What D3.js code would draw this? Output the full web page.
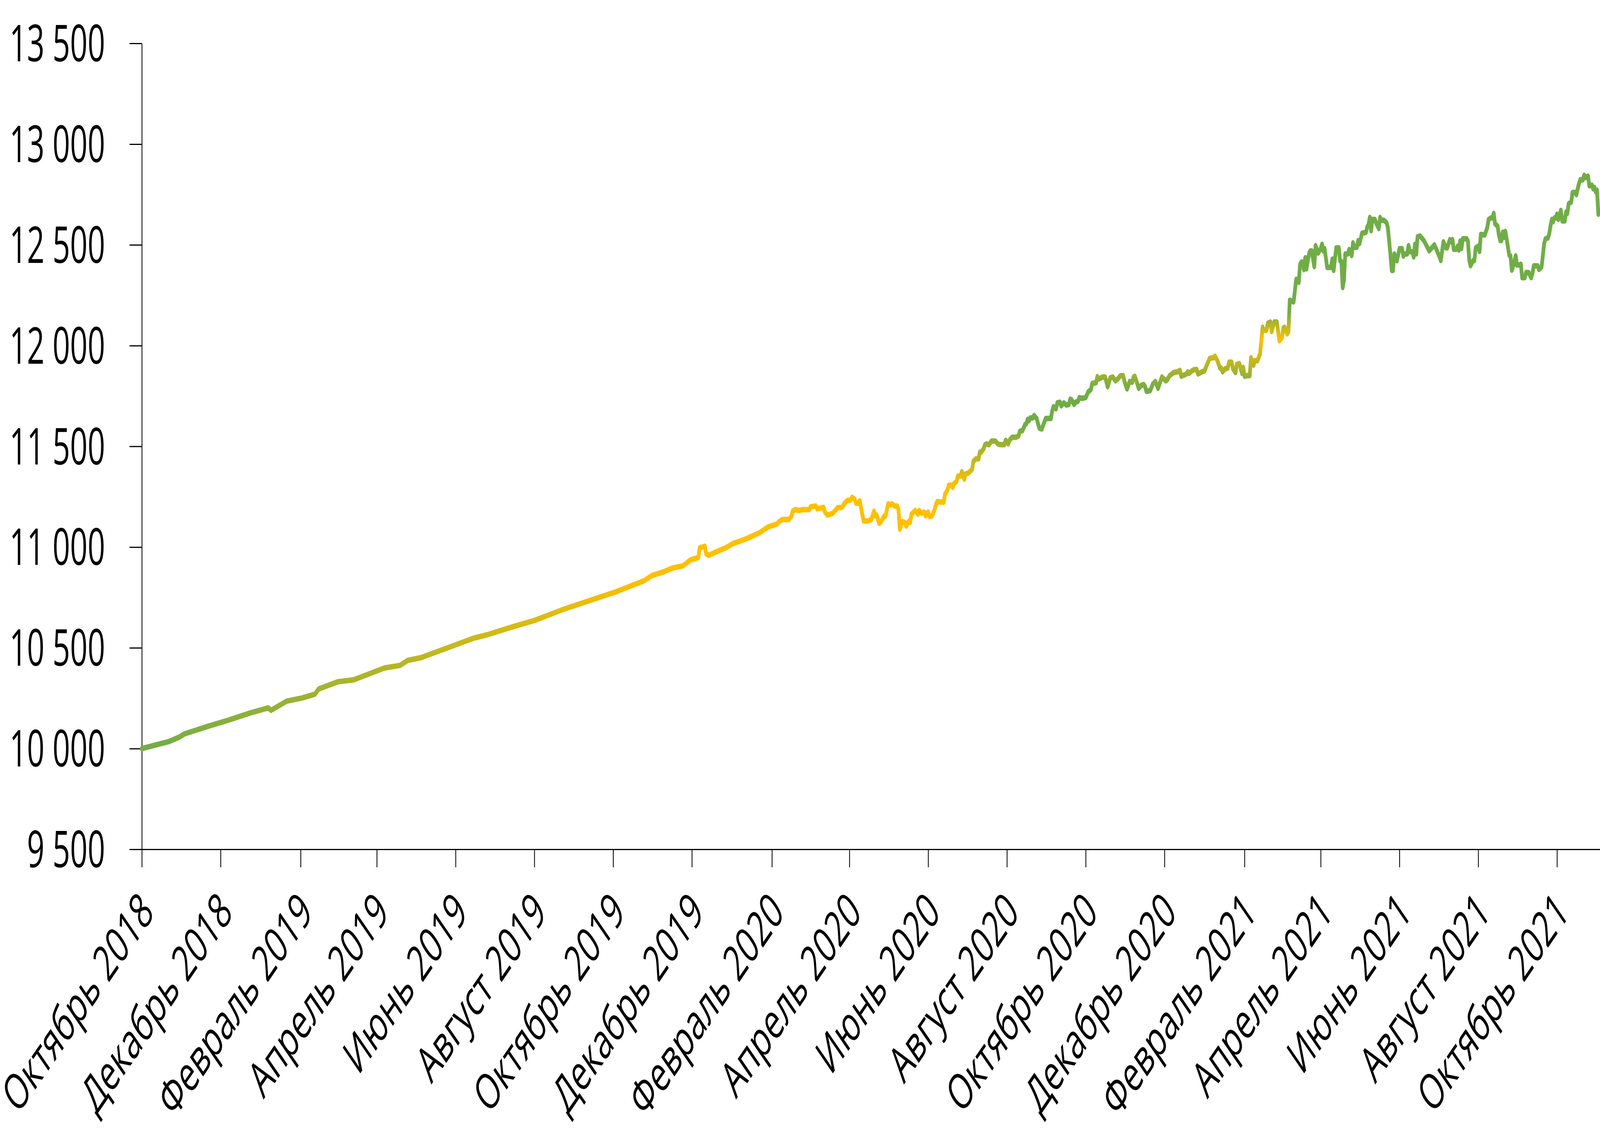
<!DOCTYPE html>
<html>
<head>
<meta charset="utf-8">
<script src="https://cdn.jsdelivr.net/npm/d3@7"></script>
<style>
  html, body { margin: 0; padding: 0; background: #fff; overflow: hidden; }
  svg { display: block; }
  .axis text { font-family: "Open Sans", sans-serif; font-size: 130px; fill: #000; }
  .axis path, .axis line { stroke: #000; stroke-width: 3; }
</style>
</head>
<body>
<script>
var w = 5967;
var h = 2936;

//Tick values and their labels
var valueTicks = [9500, 10000, 10500, 11000, 11500, 12000, 12500, 13000, 13500];
var valueLabels = ["9 500", "10 000", "10 500", "11 000", "11 500", "12 000", "12 500", "13 000", "13 500"];

var monthTicks = ["2018-10-01", "2018-12-01", "2019-02-01", "2019-04-01", "2019-06-01", "2019-08-01",
    "2019-10-01", "2019-12-01", "2020-02-01", "2020-04-01", "2020-06-01", "2020-08-01",
    "2020-10-01", "2020-12-01", "2021-02-01", "2021-04-01", "2021-06-01", "2021-08-01", "2021-10-01"];
var monthLabels = ["Октябрь 2018", "Декабрь 2018", "Февраль 2019", "Апрель 2019", "Июнь 2019", "Август 2019",
    "Октябрь 2019", "Декабрь 2019", "Февраль 2020", "Апрель 2020", "Июнь 2020", "Август 2020",
    "Октябрь 2020", "Декабрь 2020", "Февраль 2021", "Апрель 2021", "Июнь 2021", "Август 2021", "Октябрь 2021"];

//Series
var dates = [
    "2018-10-01", "2018-10-22", "2018-10-30", "2018-11-03", "2018-11-19", "2018-12-07", "2018-12-24", "2019-01-07",
    "2019-01-09", "2019-01-21", "2019-02-02", "2019-02-12", "2019-02-15", "2019-03-02", "2019-03-14", "2019-03-22",
    "2019-04-07", "2019-04-19", "2019-04-25", "2019-05-05", "2019-05-19", "2019-05-27", "2019-06-07", "2019-06-15",
    "2019-06-25", "2019-07-13", "2019-08-02", "2019-08-23", "2019-09-13", "2019-10-04", "2019-10-25", "2019-10-31",
    "2019-11-09", "2019-11-16", "2019-11-24", "2019-11-30", "2019-12-06", "2019-12-07", "2019-12-11", "2019-12-12",
    "2019-12-14", "2019-12-19", "2019-12-27", "2020-01-02", "2020-01-12", "2020-01-22", "2020-01-29", "2020-02-05",
    "2020-02-07", "2020-02-09", "2020-02-14", "2020-02-16", "2020-02-17", "2020-02-19", "2020-02-22", "2020-02-25",
    "2020-03-01", "2020-03-02", "2020-03-06", "2020-03-07", "2020-03-12", "2020-03-13", "2020-03-15", "2020-03-19",
    "2020-03-23", "2020-03-26", "2020-03-28", "2020-03-30", "2020-04-02", "2020-04-03", "2020-04-05", "2020-04-06",
    "2020-04-08", "2020-04-09", "2020-04-11", "2020-04-12", "2020-04-15", "2020-04-18", "2020-04-20", "2020-04-21",
    "2020-04-22", "2020-04-24", "2020-04-25", "2020-04-28", "2020-04-29", "2020-05-01", "2020-05-03", "2020-05-04",
    "2020-05-06", "2020-05-08", "2020-05-09", "2020-05-10", "2020-05-12", "2020-05-14", "2020-05-15", "2020-05-17",
    "2020-05-18", "2020-05-19", "2020-05-22", "2020-05-24", "2020-05-25", "2020-05-27", "2020-05-29", "2020-05-30",
    "2020-06-01", "2020-06-02", "2020-06-04", "2020-06-06", "2020-06-07", "2020-06-08", "2020-06-13", "2020-06-14",
    "2020-06-16", "2020-06-17", "2020-06-19", "2020-06-20", "2020-06-21", "2020-06-23", "2020-06-24", "2020-06-26",
    "2020-06-27", "2020-06-28", "2020-06-29", "2020-06-30", "2020-07-02", "2020-07-05", "2020-07-06", "2020-07-08",
    "2020-07-10", "2020-07-11", "2020-07-12", "2020-07-14", "2020-07-15", "2020-07-16", "2020-07-18", "2020-07-20",
    "2020-07-23", "2020-07-25", "2020-07-27", "2020-07-30", "2020-07-31", "2020-08-02", "2020-08-03", "2020-08-05",
    "2020-08-08", "2020-08-10", "2020-08-11", "2020-08-13", "2020-08-15", "2020-08-16", "2020-08-17", "2020-08-18",
    "2020-08-19", "2020-08-21", "2020-08-22", "2020-08-24", "2020-08-26", "2020-08-28", "2020-08-29", "2020-08-31",
    "2020-09-04", "2020-09-05", "2020-09-06", "2020-09-08", "2020-09-09", "2020-09-11", "2020-09-12", "2020-09-14",
    "2020-09-16", "2020-09-18", "2020-09-19", "2020-09-20", "2020-09-22", "2020-09-23", "2020-09-25", "2020-09-26",
    "2020-09-28", "2020-10-01", "2020-10-03", "2020-10-05", "2020-10-06", "2020-10-09", "2020-10-10", "2020-10-11",
    "2020-10-14", "2020-10-16", "2020-10-18", "2020-10-20", "2020-10-22", "2020-10-24", "2020-10-26", "2020-10-28",
    "2020-10-30", "2020-10-31", "2020-11-02", "2020-11-04", "2020-11-06", "2020-11-07", "2020-11-08", "2020-11-10",
    "2020-11-11", "2020-11-13", "2020-11-15", "2020-11-16", "2020-11-17", "2020-11-20", "2020-11-22", "2020-11-24",
    "2020-11-26", "2020-11-29", "2020-12-02", "2020-12-03", "2020-12-05", "2020-12-08", "2020-12-11", "2020-12-13",
    "2020-12-14", "2020-12-18", "2020-12-19", "2020-12-20", "2020-12-22", "2020-12-24", "2020-12-26", "2020-12-27",
    "2020-12-30", "2021-01-01", "2021-01-03", "2021-01-05", "2021-01-08", "2021-01-09", "2021-01-11", "2021-01-13",
    "2021-01-14", "2021-01-15", "2021-01-17", "2021-01-19", "2021-01-20", "2021-01-22", "2021-01-23", "2021-01-25",
    "2021-01-26", "2021-01-28", "2021-01-30", "2021-01-31", "2021-02-01", "2021-02-03", "2021-02-05", "2021-02-06",
    "2021-02-08", "2021-02-09", "2021-02-11", "2021-02-13", "2021-02-15", "2021-02-16", "2021-02-18", "2021-02-19",
    "2021-02-21", "2021-02-22", "2021-02-24", "2021-02-26", "2021-02-28", "2021-03-02", "2021-03-03", "2021-03-04",
    "2021-03-06", "2021-03-07", "2021-03-08", "2021-03-11", "2021-03-13", "2021-03-15", "2021-03-16", "2021-03-17",
    "2021-03-18", "2021-03-19", "2021-03-20", "2021-03-21", "2021-03-23", "2021-03-24", "2021-03-25", "2021-03-27",
    "2021-03-28", "2021-03-30", "2021-04-01", "2021-04-02", "2021-04-03", "2021-04-04", "2021-04-06", "2021-04-09",
    "2021-04-10", "2021-04-11", "2021-04-13", "2021-04-15", "2021-04-16", "2021-04-17", "2021-04-18", "2021-04-19",
    "2021-04-20", "2021-04-22", "2021-04-23", "2021-04-25", "2021-04-26", "2021-04-27", "2021-04-29", "2021-04-30",
    "2021-05-01", "2021-05-03", "2021-05-06", "2021-05-07", "2021-05-08", "2021-05-09", "2021-05-10", "2021-05-11",
    "2021-05-13", "2021-05-14", "2021-05-16", "2021-05-17", "2021-05-18", "2021-05-20", "2021-05-22", "2021-05-23",
    "2021-05-25", "2021-05-26", "2021-05-27", "2021-05-28", "2021-05-30", "2021-06-01", "2021-06-03", "2021-06-04",
    "2021-06-05", "2021-06-07", "2021-06-08", "2021-06-09", "2021-06-11", "2021-06-12", "2021-06-13", "2021-06-14",
    "2021-06-15", "2021-06-17", "2021-06-20", "2021-06-24", "2021-06-28", "2021-07-02", "2021-07-03", "2021-07-05",
    "2021-07-07", "2021-07-08", "2021-07-10", "2021-07-11", "2021-07-12", "2021-07-13", "2021-07-15", "2021-07-16",
    "2021-07-17", "2021-07-18", "2021-07-19", "2021-07-20", "2021-07-23", "2021-07-24", "2021-07-25", "2021-07-26",
    "2021-07-28", "2021-07-29", "2021-07-30", "2021-08-01", "2021-08-02", "2021-08-03", "2021-08-06", "2021-08-08",
    "2021-08-09", "2021-08-11", "2021-08-12", "2021-08-13", "2021-08-14", "2021-08-16", "2021-08-17", "2021-08-18",
    "2021-08-19", "2021-08-20", "2021-08-21", "2021-08-22", "2021-08-24", "2021-08-25", "2021-08-26", "2021-08-27",
    "2021-08-28", "2021-08-30", "2021-08-31", "2021-09-02", "2021-09-03", "2021-09-04", "2021-09-06", "2021-09-07",
    "2021-09-09", "2021-09-11", "2021-09-12", "2021-09-13", "2021-09-16", "2021-09-17", "2021-09-19", "2021-09-20",
    "2021-09-21", "2021-09-22", "2021-09-24", "2021-09-25", "2021-09-26", "2021-09-27", "2021-09-28", "2021-09-29",
    "2021-09-30", "2021-10-01", "2021-10-02", "2021-10-04", "2021-10-05", "2021-10-07", "2021-10-08", "2021-10-09",
    "2021-10-10", "2021-10-12", "2021-10-13", "2021-10-15", "2021-10-16", "2021-10-17", "2021-10-18", "2021-10-19",
    "2021-10-21", "2021-10-22", "2021-10-23", "2021-10-25", "2021-10-26", "2021-10-28", "2021-10-29", "2021-10-30",
    "2021-10-31", "2021-11-01", "2021-11-02"
];
var values = [
    10000, 10035, 10057, 10073, 10106, 10141, 10177, 10202,
    10190, 10235, 10251, 10270, 10296, 10332, 10341, 10361,
    10400, 10413, 10438, 10451, 10484, 10503, 10529, 10548,
    10564, 10600, 10638, 10690, 10735, 10780, 10833, 10859,
    10877, 10896, 10907, 10937, 10948, 10996, 11004, 10967,
    10959, 10974, 10996, 11018, 11041, 11070, 11100, 11115,
    11129, 11137, 11137, 11152, 11178, 11186, 11182, 11186,
    11186, 11200, 11204, 11190, 11197, 11174, 11159, 11167,
    11196, 11196, 11215, 11230, 11234, 11247, 11237, 11218,
    11218, 11230, 11159, 11129, 11129, 11137, 11178, 11155,
    11159, 11118, 11122, 11155, 11155, 11215, 11211, 11215,
    11204, 11204, 11186, 11089, 11126, 11122, 11104, 11129,
    11122, 11163, 11182, 11163, 11182, 11167, 11174, 11155,
    11174, 11152, 11155, 11186, 11211, 11226, 11222, 11263,
    11285, 11307, 11307, 11296, 11315, 11326, 11352, 11352,
    11374, 11359, 11337, 11363, 11367, 11385, 11426, 11438,
    11438, 11471, 11471, 11489, 11508, 11512, 11508, 11526,
    11526, 11512, 11508, 11508, 11530, 11512, 11530, 11545,
    11545, 11552, 11575, 11578, 11608, 11612, 11634, 11627,
    11641, 11641, 11653, 11638, 11590, 11586, 11605, 11638,
    11638, 11675, 11697, 11686, 11716, 11719, 11701, 11716,
    11705, 11708, 11734, 11731, 11708, 11719, 11723, 11742,
    11738, 11742, 11771, 11782, 11812, 11816, 11846, 11834,
    11844, 11844, 11796, 11840, 11844, 11825, 11836, 11851,
    11851, 11822, 11785, 11822, 11818, 11844, 11848, 11810,
    11788, 11803, 11807, 11796, 11773, 11777, 11810, 11822,
    11788, 11844, 11825, 11829, 11851, 11866, 11870, 11877,
    11848, 11859, 11870, 11862, 11874, 11881, 11881, 11859,
    11870, 11874, 11907, 11937, 11940, 11948, 11925, 11888,
    11888, 11870, 11885, 11888, 11918, 11918, 11885, 11866,
    11907, 11911, 11862, 11892, 11848, 11851, 11851, 11940,
    11903, 11925, 11925, 11959, 12091, 12076, 12076, 12110,
    12117, 12069, 12117, 12117, 12024, 12039, 12087, 12091,
    12058, 12069, 12225, 12217, 12329, 12314, 12403, 12414,
    12414, 12377, 12436, 12381, 12459, 12470, 12470, 12392,
    12496, 12459, 12481, 12503, 12470, 12481, 12388, 12388,
    12429, 12373, 12485, 12485, 12421, 12418, 12288, 12325,
    12455, 12455, 12477, 12447, 12510, 12488, 12488, 12521,
    12506, 12558, 12562, 12588, 12599, 12636, 12570, 12626,
    12626, 12607, 12581, 12636, 12622, 12622, 12610, 12585,
    12451, 12373, 12373, 12455, 12421, 12481, 12481, 12444,
    12455, 12455, 12496, 12466, 12466, 12440, 12503, 12455,
    12540, 12544, 12520, 12470, 12500, 12441, 12422, 12515,
    12485, 12485, 12526, 12515, 12526, 12478, 12478, 12493,
    12474, 12519, 12482, 12530, 12530, 12519, 12426, 12396,
    12422, 12422, 12485, 12493, 12467, 12552, 12549, 12586,
    12626, 12634, 12634, 12656, 12604, 12593, 12549, 12522,
    12522, 12563, 12537, 12567, 12489, 12448, 12445, 12374,
    12393, 12445, 12400, 12400, 12404, 12337, 12337, 12363,
    12363, 12337, 12359, 12396, 12396, 12378, 12389, 12445,
    12504, 12530, 12534, 12556, 12596, 12626, 12615, 12634,
    12634, 12652, 12626, 12671, 12619, 12619, 12663, 12656,
    12704, 12712, 12760, 12760, 12749, 12778, 12804, 12823,
    12823, 12845, 12834, 12841, 12793, 12796, 12778, 12785,
    12763, 12771, 12652
];

var parseDate = d3.timeParse("%Y-%m-%d");

var dataset = dates.map(function (d, i) {
    return { Date: parseDate(d), Amount: values[i] };
});

//Scales
var xScale = d3.scaleTime()
    .domain([parseDate("2018-10-01"), new Date(2021, 10, 3, 7)])
    .range([529, w]);

var yScale = d3.scaleLinear()
    .domain([9500, 13500])
    .range([2174, 111]);

//Drawn in a 5967 x 2936 space, stretched to whatever window it gets
var svg = d3.select("body")
    .append("svg")
    .attr("viewBox", "0 0 " + w + " " + h)
    .attr("preserveAspectRatio", "none")
    .style("width", "100vw")
    .style("height", "100vh");

//Vertical colour gradient of the line (green / yellow bands)
var green = "#70AD47", yellow = "#FFC000";
var bands = [
    { v: 10000, c: green }, { v: 10850, c: yellow }, { v: 11300, c: yellow },
    { v: 11600, c: green }, { v: 11780, c: green }, { v: 12030, c: yellow },
    { v: 12170, c: green }
];
var gy1 = yScale(bands[0].v), gy2 = yScale(bands[bands.length - 1].v);

var grad = svg.append("defs").append("linearGradient")
    .attr("id", "lineGrad")
    .attr("gradientUnits", "userSpaceOnUse")
    .attr("x1", 0).attr("x2", 0)
    .attr("y1", gy1).attr("y2", gy2);

grad.selectAll("stop")
    .data(bands)
    .enter()
    .append("stop")
    .attr("offset", function (d) { return (yScale(d.v) - gy1) / (gy2 - gy1); })
    .attr("stop-color", function (d) { return d.c; });

//Labels use a slightly narrow face, so squeeze them along the baseline
var squeezeY = 0.88;
var squeezeX = 0.84;

//Axes
var yaxis = d3.axisLeft(yScale)
    .tickValues(valueTicks)
    .tickFormat(function (d, i) { return valueLabels[i]; })
    .tickSize(46)
    .tickSizeOuter(0);

var xaxis = d3.axisBottom(xScale)
    .tickValues(monthTicks.map(parseDate))
    .tickFormat(function (d, i) { return monthLabels[i]; })
    .tickSize(46)
    .tickSizeOuter(0);

svg.append("g")
    .attr("class", "axis")
    .attr("transform", "translate(529,0)")
    .call(yaxis)
    .selectAll(".tick text")
    .attr("x", 0)
    .attr("dy", "0.35em")
    .attr("transform", "translate(-137,0) scale(" + squeezeY + ",1)");

var gx = svg.append("g")
    .attr("class", "axis")
    .attr("transform", "translate(0,2174)")
    .call(xaxis);

gx.selectAll(".tick text")
    .attr("text-anchor", "end")
    .attr("y", 0)
    .attr("dy", "0.35em")
    .attr("transform", "translate(18,135) rotate(-45) scale(" + squeezeX + ",1)");

//The line
var line = d3.line()
    .x(function (d) { return xScale(d.Date); })
    .y(function (d) { return yScale(d.Amount); });

svg.append("path")
    .datum(dataset)
    .attr("d", line)
    .attr("fill", "none")
    .attr("stroke", "url(#lineGrad)")
    .attr("stroke-width", 14)
    .attr("stroke-linejoin", "round")
    .attr("stroke-linecap", "round");
</script>
</body>
</html>
